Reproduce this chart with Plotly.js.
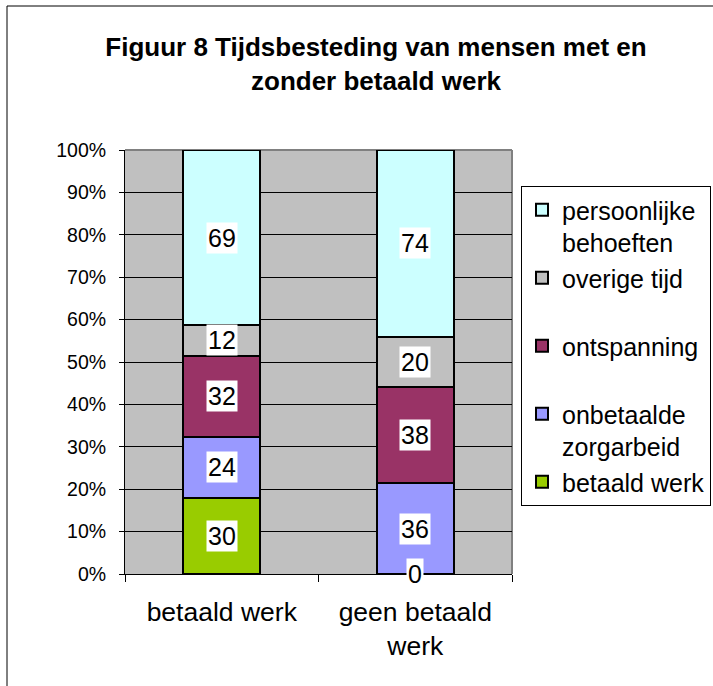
<!DOCTYPE html>
<html>
<head>
<meta charset="utf-8">
<script src="https://cdn.plot.ly/plotly-3.0.1.min.js"></script>
<style>html,body{margin:0;padding:0;background:#fff;}#chart{width:713px;height:686px;}</style>
</head>
<body>
<div id="chart"></div>
<script>
const categories = ['betaald werk', 'geen betaald<br>werk'];
const seriesNames = ['betaald werk', 'onbetaalde zorgarbeid', 'ontspanning', 'overige tijd', 'persoonlijke behoeften'];
const legendLabels = ['betaald werk', 'onbetaalde<br>zorgarbeid', 'ontspanning<br> ', 'overige tijd<br> ', 'persoonlijke<br>behoeften'];
const betaaldWerk = [30, 0];
const onbetaaldeZorgarbeid = [24, 36];
const ontspanning = [32, 38];
const overigeTijd = [12, 20];
const persoonlijkeBehoeften = [69, 74];
const seriesColors = ['#99CC00', '#9999FF', '#993366', '#C0C0C0', '#CCFFFF'];
const yTickVals = [0, 10, 20, 30, 40, 50, 60, 70, 80, 90, 100];
const yTickText = yTickVals.map(v => v + '%');

const seriesValues = [betaaldWerk, onbetaaldeZorgarbeid, ontspanning, overigeTijd, persoonlijkeBehoeften];

const traces = seriesValues.map((vals, i) => ({
  type: 'bar',
  name: legendLabels[i],
  x: categories,
  y: vals,
  marker: {color: seriesColors[i], line: {color: '#000', width: 2}},
  hoverinfo: 'none'
}));

// value labels with white background, centred in each segment (percent scale)
const annotations = [];
categories.forEach((cat, ci) => {
  const total = seriesValues.reduce((s, arr) => s + arr[ci], 0);
  let cum = 0;
  seriesValues.forEach((arr) => {
    const v = arr[ci];
    annotations.push({
      x: cat, y: (cum + v / 2) / total * 100, xref: 'x', yref: 'y',
      text: String(v), showarrow: false, bgcolor: '#fff', borderpad: 1,
      font: {family: 'Liberation Sans, Arial, sans-serif', size: 25, color: '#000'}
    });
    cum += v;
  });
});

const L = 125, R = 512, T = 150, B = 574, W = 713, H = 686;
const px = v => (v - L) / (R - L);
const py = v => (B - v) / (B - T);

const layout = {
  width: W, height: H,
  margin: {l: L, r: W - R, t: T, b: H - B, pad: 0, autoexpand: false},
  paper_bgcolor: '#fff',
  plot_bgcolor: '#C0C0C0',
  barmode: 'stack',
  barnorm: 'percent',
  bargap: 0.6,
  font: {family: 'Liberation Sans, Arial, sans-serif', color: '#000'},
  title: {
    text: '<b>Figuur 8 Tijdsbesteding van mensen met en<br>zonder betaald werk</b>',
    font: {size: 26, color: '#000'},
    xref: 'paper', x: px(376), xanchor: 'center',
    yref: 'container', y: (H - 56) / H, yanchor: 'top'
  },
  xaxis: {
    type: 'category',
    showline: true, linecolor: '#000', linewidth: 1,
    ticks: 'outside', tickson: 'boundaries', ticklen: 7, tickcolor: '#000', tickwidth: 1,
    tickfont: {size: 26.5, color: '#000'},
    ticklabelstandoff: 14,
    showgrid: false, zeroline: false, fixedrange: true
  },
  yaxis: {
    range: [0, 100], tickmode: 'array', tickvals: yTickVals, ticktext: yTickText,
    showline: true, linecolor: '#000', linewidth: 1,
    ticks: 'outside', ticklen: 5, tickcolor: '#000', tickwidth: 1,
    tickfont: {size: 19.5, color: '#000'},
    ticklabelstandoff: 9,
    showgrid: true, gridcolor: '#000', gridwidth: 1,
    zeroline: false, fixedrange: true
  },
  legend: {
    x: px(521), xanchor: 'left', y: py(186), yanchor: 'top',
    traceorder: 'reversed', valign: 'top',
    bgcolor: '#fff', bordercolor: '#000', borderwidth: 1,
    font: {size: 25, color: '#000'},
    itemclick: false, itemdoubleclick: false
  },
  shapes: [
    {type: 'line', xref: 'paper', yref: 'paper', x0: 0, x1: 1, y0: 1, y1: 1, layer: 'between', line: {color: '#808080', width: 2}},
    {type: 'line', xref: 'paper', yref: 'paper', x0: 1, x1: 1, y0: 0, y1: 1, layer: 'between', line: {color: '#808080', width: 2}},
    {type: 'rect', xref: 'paper', yref: 'paper', x0: px(7), x1: px(740), y0: py(720), y1: py(6), layer: 'below', line: {color: '#000', width: 1}, fillcolor: 'rgba(0,0,0,0)'}
  ],
  annotations: annotations,
  showlegend: true
};

Plotly.newPlot('chart', traces, layout, {displayModeBar: false, staticPlot: true});
</script>
</body>
</html>
